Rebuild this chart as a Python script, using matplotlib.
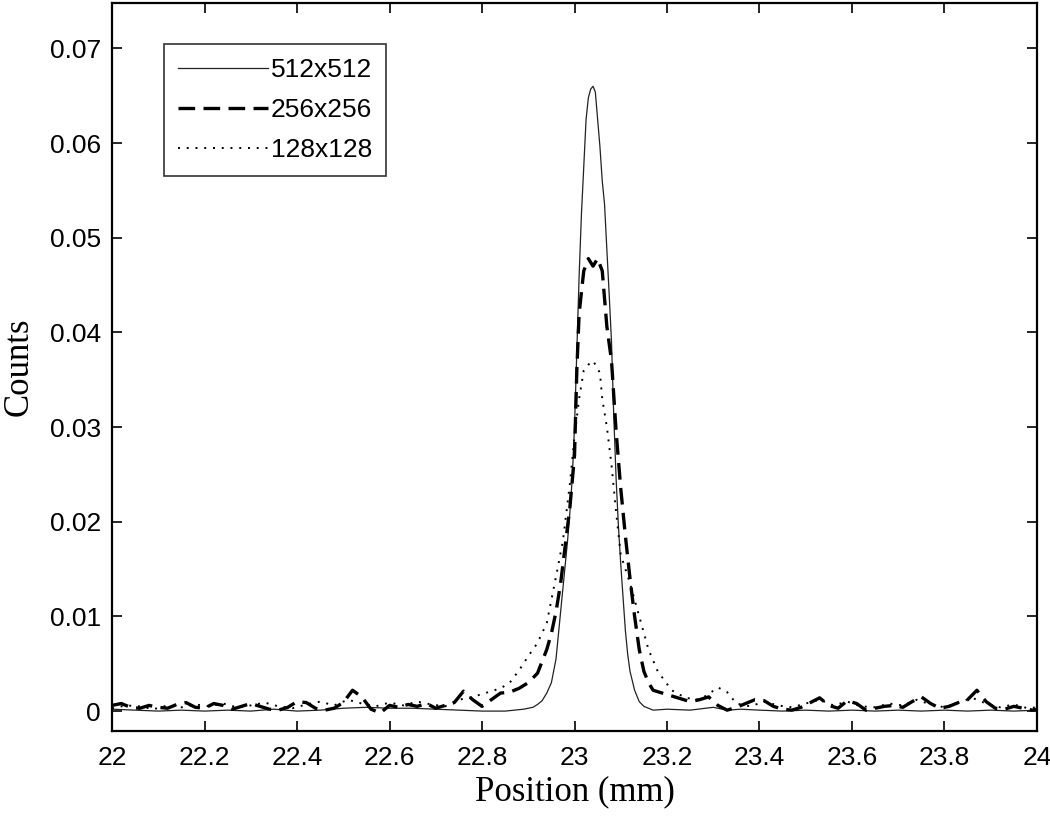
import numpy as np
import matplotlib
matplotlib.use('Agg')
import matplotlib.pyplot as plt

# profile through the point source, three matrix sizes
x_512 = [22.00, 22.05, 22.10, 22.15, 22.20, 22.25, 22.30, 22.35, 22.40, 22.45,
         22.50, 22.55, 22.60, 22.65, 22.70, 22.75, 22.80, 22.85, 22.87, 22.89,
         22.91, 22.92, 22.93, 22.94, 22.95, 22.96, 22.965, 22.97, 22.975, 22.98,
         22.985, 22.99, 22.995, 23.00, 23.005, 23.01, 23.015, 23.02, 23.025, 23.03,
         23.035, 23.04, 23.045, 23.05, 23.055, 23.06, 23.065, 23.07, 23.075, 23.08,
         23.085, 23.09, 23.095, 23.10, 23.105, 23.11, 23.115, 23.12, 23.13, 23.14,
         23.15, 23.17, 23.20, 23.25, 23.30, 23.33, 23.36, 23.40, 23.45, 23.50,
         23.55, 23.60, 23.65, 23.70, 23.75, 23.80, 23.85, 23.90, 23.95, 24.00]
y_512 = [0.0002, 0.0001, 0.0000, 0.0001, 0.0000, 0.0001, 0.0000, 0.0002, 0.0000, 0.0001,
         0.0003, 0.0004, 0.0003, 0.0003, 0.0002, 0.0001, 0.0000, 0.0000, 0.0001, 0.0002,
         0.0004, 0.0007, 0.0011, 0.0019, 0.0030, 0.0055, 0.0080, 0.0105, 0.0130, 0.0155,
         0.0180, 0.0210, 0.0245, 0.0300, 0.0380, 0.0460, 0.0525, 0.0575, 0.0625, 0.0648,
         0.0657, 0.0660, 0.0654, 0.0625, 0.0596, 0.0560, 0.0535, 0.0487, 0.0440, 0.0390,
         0.0310, 0.0245, 0.0195, 0.0155, 0.0120, 0.0085, 0.0060, 0.0042, 0.0022, 0.0010,
         0.0005, 0.0001, 0.0002, 0.0001, 0.0004, 0.0001, 0.0002, 0.0001, 0.0000, 0.0001,
         0.0000, 0.0001, 0.0000, 0.0001, 0.0000, 0.0001, 0.0000, 0.0001, 0.0000, 0.0001]

x_256 = [22.00, 22.02, 22.04, 22.06, 22.08, 22.10, 22.12, 22.14, 22.16, 22.18,
         22.20, 22.22, 22.24, 22.26, 22.28, 22.30, 22.32, 22.34, 22.36, 22.38,
         22.40, 22.42, 22.44, 22.46, 22.48, 22.50, 22.52, 22.54, 22.56, 22.58,
         22.60, 22.62, 22.64, 22.66, 22.68, 22.70, 22.72, 22.74, 22.76, 22.78,
         22.80, 22.82, 22.84, 22.86, 22.88, 22.90, 22.92, 22.94, 22.95, 22.96,
         22.97, 22.98, 22.99, 23.00, 23.005, 23.01, 23.02, 23.03, 23.04, 23.05,
         23.06, 23.07, 23.08, 23.09, 23.10, 23.11, 23.12, 23.13, 23.14, 23.15,
         23.16, 23.17, 23.19, 23.21, 23.23, 23.25, 23.27, 23.29, 23.31, 23.33,
         23.35, 23.37, 23.39, 23.41, 23.43, 23.45, 23.47, 23.49, 23.51, 23.53,
         23.55, 23.57, 23.59, 23.61, 23.63, 23.65, 23.67, 23.69, 23.71, 23.73,
         23.75, 23.77, 23.79, 23.81, 23.83, 23.85, 23.87, 23.89, 23.91, 23.93,
         23.95, 23.97, 23.99, 24.00]
y_256 = [0.0006, 0.0008, 0.0004, 0.0003, 0.0006, 0.0004, 0.0003, 0.0007, 0.0009, 0.0004,
         0.0003, 0.0008, 0.0006, 0.0002, 0.0005, 0.0008, 0.0005, 0.0002, 0.0001, 0.0004,
         0.0010, 0.0009, 0.0003, 0.0001, 0.0003, 0.0009, 0.0022, 0.0015, 0.0002, -0.0002,
         0.0006, 0.0004, 0.0007, 0.0005, 0.0008, 0.0003, 0.0006, 0.0009, 0.0021, 0.0012,
         0.0005, 0.0012, 0.0019, 0.0020, 0.0024, 0.0030, 0.0040, 0.0065, 0.0082, 0.0105,
         0.0135, 0.0175, 0.0215, 0.0270, 0.0360, 0.0420, 0.0465, 0.0478, 0.0470, 0.0478,
         0.0465, 0.0406, 0.0370, 0.0295, 0.0235, 0.0185, 0.0140, 0.0100, 0.0065, 0.0042,
         0.0030, 0.0022, 0.0019, 0.0016, 0.0013, 0.0010, 0.0012, 0.0015, 0.0006, 0.0001,
         0.0004, 0.0008, 0.0012, 0.0011, 0.0005, 0.0002, 0.0001, 0.0004, 0.0009, 0.0014,
         0.0006, 0.0003, 0.0011, 0.0008, 0.0001, 0.0003, 0.0005, 0.0006, 0.0004, 0.0010,
         0.0015, 0.0008, 0.0003, 0.0005, 0.0009, 0.0012, 0.0022, 0.0010, 0.0003, 0.0002,
         0.0005, 0.0003, 0.0001, 0.0002]

x_128 = [22.00, 22.03, 22.06, 22.09, 22.12, 22.15, 22.18, 22.21, 22.24, 22.27,
         22.30, 22.33, 22.36, 22.39, 22.42, 22.45, 22.48, 22.51, 22.54, 22.57,
         22.60, 22.63, 22.66, 22.69, 22.72, 22.75, 22.78, 22.80, 22.82, 22.84,
         22.86, 22.88, 22.90, 22.92, 22.94, 22.96, 22.975, 22.99, 23.00, 23.01,
         23.02, 23.03, 23.04, 23.05, 23.055, 23.06, 23.07, 23.08, 23.09, 23.10,
         23.12, 23.14, 23.16, 23.18, 23.21, 23.24, 23.27, 23.29, 23.31, 23.33,
         23.35, 23.38, 23.41, 23.44, 23.47, 23.50, 23.53, 23.56, 23.59, 23.62,
         23.65, 23.68, 23.71, 23.74, 23.77, 23.80, 23.83, 23.86, 23.89, 23.92,
         23.95, 23.98, 24.00]
y_128 = [0.0003, 0.0006, 0.0005, 0.0002, 0.0006, 0.0004, 0.0007, 0.0005, 0.0008, 0.0004,
         0.0006, 0.0009, 0.0005, 0.0003, 0.0007, 0.0010, 0.0006, 0.0012, 0.0008, 0.0005,
         0.0009, 0.0006, 0.0010, 0.0007, 0.0005, 0.0012, 0.0015, 0.0018, 0.0021, 0.0024,
         0.0030, 0.0043, 0.0058, 0.0072, 0.0093, 0.0142, 0.0180, 0.0240, 0.0290, 0.0330,
         0.0360, 0.0366, 0.0370, 0.0362, 0.0357, 0.0330, 0.0300, 0.0260, 0.0210, 0.0165,
         0.0135, 0.0100, 0.0065, 0.0042, 0.0022, 0.0014, 0.0012, 0.0018, 0.0025, 0.0020,
         0.0008, 0.0005, 0.0010, 0.0006, 0.0004, 0.0008, 0.0012, 0.0006, 0.0010, 0.0005,
         0.0004, 0.0008, 0.0006, 0.0012, 0.0007, 0.0004, 0.0009, 0.0014, 0.0008, 0.0004,
         0.0007, 0.0003, 0.0004]

labels = ['512x512', '256x256', '128x128']

fig = plt.figure(figsize=(10.5, 8.24), dpi=100)
ax = fig.add_axes([0.1067, 0.1129, 0.8809, 0.8835])

ax.plot(x_512, y_512, color='#222222', lw=0.9, label=labels[0])
ax.plot(x_256, y_256, color='black', lw=2.4, dashes=(5, 2.5), label=labels[1])
ax.plot(x_128, y_128, color='black', lw=1.4, dashes=(1, 3.5), label=labels[2])

ax.set_xlim(22, 24)
ax.set_ylim(-0.0021, 0.0748)
ax.set_xticks(np.arange(22, 24.01, 0.2))
ax.set_yticks(np.arange(0, 0.0701, 0.01))
ax.xaxis.set_major_formatter(matplotlib.ticker.FormatStrFormatter('%g'))
ax.yaxis.set_major_formatter(matplotlib.ticker.FuncFormatter(lambda v, p: '%g' % round(v, 3)))

ax.tick_params(direction='in', top=True, right=True, length=7, width=1.2,
               labelsize=19, pad=8)
ax.tick_params(axis='x', pad=11)
for lab in ax.get_xticklabels() + ax.get_yticklabels():
    lab.set_family('Liberation Sans')
for s in ax.spines.values():
    s.set_linewidth(1.6)

ax.set_xlabel('Position (mm)', family='Liberation Serif', fontsize=25, labelpad=4)
ax.set_ylabel('Counts', family='Liberation Serif', fontsize=25, labelpad=10)

leg = ax.legend(loc='upper left', bbox_to_anchor=(0.056, 0.944), borderaxespad=0,
                frameon=True, fancybox=False, edgecolor='black', handlelength=3.4,
                handletextpad=0.1, borderpad=0.55, labelspacing=0.6,
                prop={'family': 'Liberation Sans', 'size': 19})
leg.get_frame().set_linewidth(1.2)

plt.savefig('out.png', dpi=100)
